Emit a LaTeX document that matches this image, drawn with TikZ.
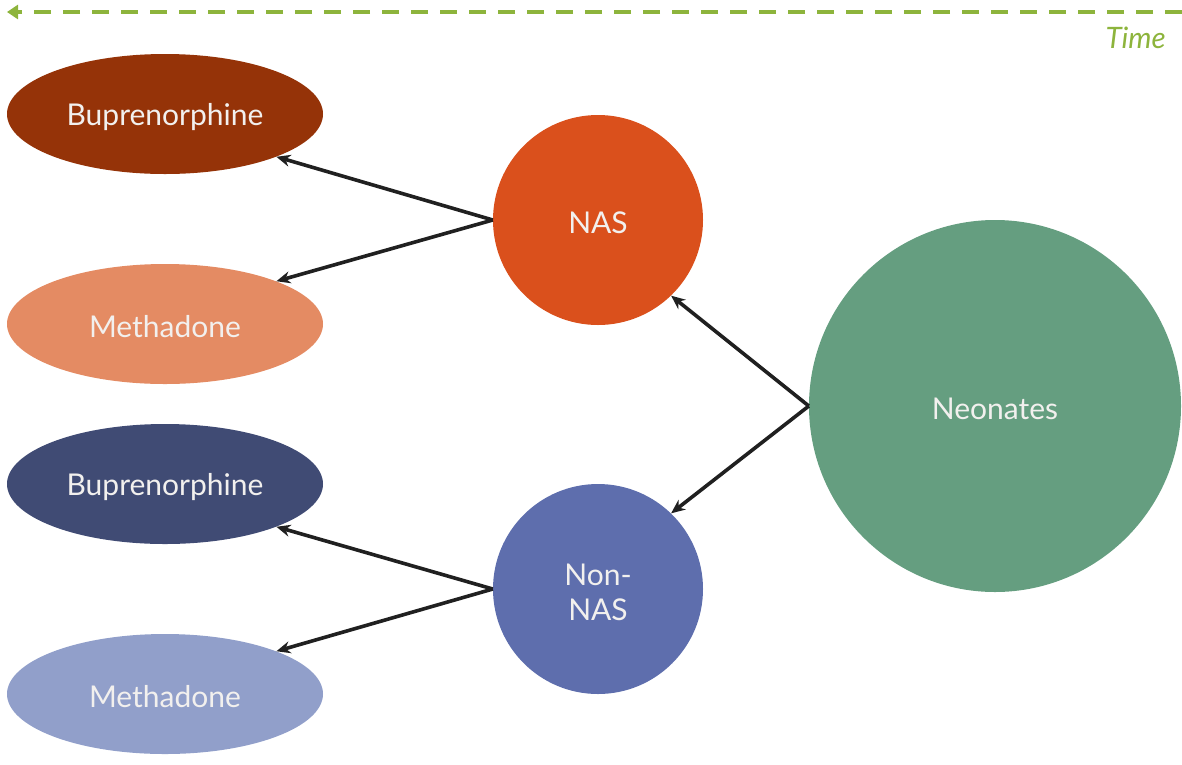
\documentclass[tikz,border=0pt]{standalone}
\usepackage{fontspec}
\setmainfont{Lato}
\usetikzlibrary{arrows.meta,shapes.geometric}
\definecolor{timegreen}{HTML}{8DB43C}
\definecolor{bupA}{HTML}{953308}
\definecolor{metA}{HTML}{E48B63}
\definecolor{bupB}{HTML}{404B74}
\definecolor{metB}{HTML}{919FCA}
\definecolor{nasC}{HTML}{DA501C}
\definecolor{nonC}{HTML}{5E6EAD}
\definecolor{neoC}{HTML}{659E80}
\definecolor{txt}{HTML}{F2F0EE}
\definecolor{arr}{HTML}{202020}
\begin{document}
\begin{tikzpicture}[x=1pt,y=-1pt,
  lbl/.style={inner sep=0pt,label={[text=txt,font=\fontsize{30}{35}\selectfont,align=center,inner sep=0pt,yshift=-3pt]center:#1}},
  drug/.style={lbl=#1,ellipse,minimum width=316pt,minimum height=120pt},
  grp/.style={lbl=#1,circle,minimum size=210pt},
  link/.style={draw=arr,line width=3.6pt,-{Stealth[length=14pt,width=12pt]}},
  timeline/.style={draw=timegreen,line width=4pt,dash pattern=on 17pt off 12pt,-{Triangle[length=11pt,width=14pt]}}]
\useasboundingbox (0,0) rectangle (1182,764);
\coordinate (tstart) at (1182,12);
\coordinate (tend) at (7,12);
\draw[timeline] (tstart) -- (tend);
\node[text=timegreen,font=\fontsize{29.5}{34}\selectfont\itshape,anchor=east,inner sep=0pt] (time) at (1166,38) {Time};
\node[drug=Buprenorphine,fill=bupA] (b1) at (165,114) {};
\node[drug=Methadone,fill=metA] (m1) at (165,324) {};
\node[drug=Buprenorphine,fill=bupB] (b2) at (165,484) {};
\node[drug=Methadone,fill=metB] (m2) at (165,694) {};
\node[grp=NAS,fill=nasC] (nas) at (598,220) {};
\node[grp={Non-\\NAS},fill=nonC] (non) at (598,589) {};
\node[lbl=Neonates,circle,fill=neoC,minimum size=372pt] (neo) at (995,406) {};
\draw[link] (neo.west) -- (nas.-46);
\draw[link] (neo.west) -- (non.46);
\draw[link] (nas.west) -- (b1.-21);
\draw[link] (nas.west) -- (m1.21);
\draw[link] (non.west) -- (b2.-21);
\draw[link] (non.west) -- (m2.21);
\end{tikzpicture}
\end{document}
